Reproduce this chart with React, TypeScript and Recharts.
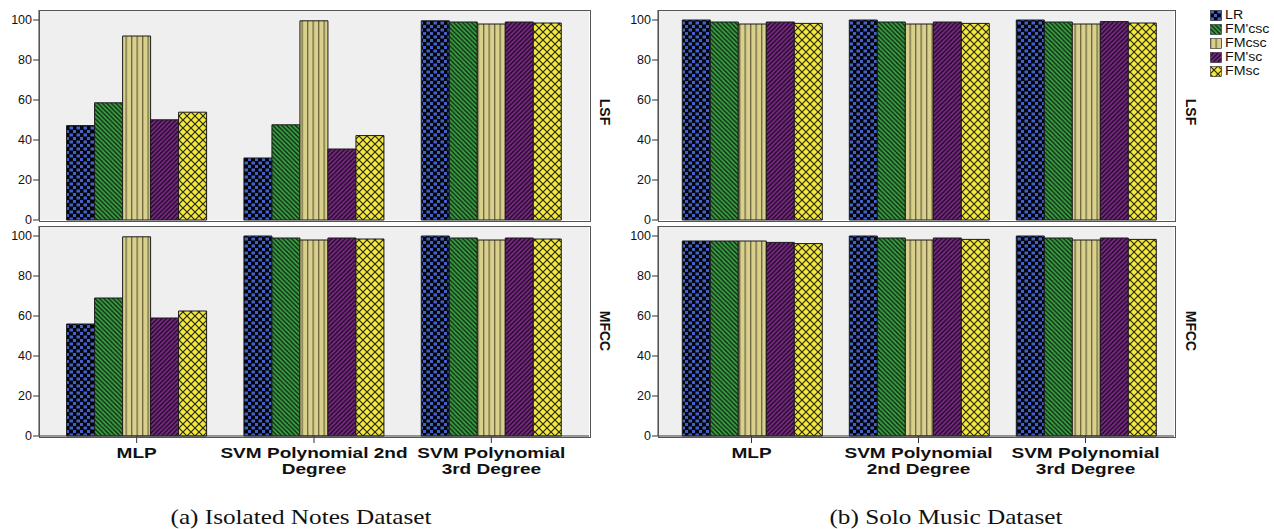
import React from 'react';
import { BarChart, Bar, XAxis, YAxis } from 'recharts';

// series + categories
const seriesNames = ['LR', "FM'csc", 'FMcsc', "FM'sc", 'FMsc'];
const seriesKeys = ['lr', 'fmPcsc', 'fmcsc', 'fmPsc', 'fmsc'];
const isolatedCategories = ['MLP', 'SVM Polynomial 2nd\nDegree', 'SVM Polynomial\n3rd Degree'];
const soloCategories = ['MLP', 'SVM Polynomial\n2nd Degree', 'SVM Polynomial\n3rd Degree'];
const yTicks = [0, 20, 40, 60, 80, 100];

// (a) Isolated Notes - LSF  (one array per series, values per category)
const isoLsfLR = [47.2, 31, 99.6];
const isoLsfFMPcsc = [58.6, 47.6, 99];
const isoLsfFMcsc = [92, 99.6, 98];
const isoLsfFMPsc = [50.1, 35.5, 99];
const isoLsfFMsc = [53.9, 42.2, 98.5];

// (a) Isolated Notes - MFCC
const isoMfccLR = [56, 100, 100];
const isoMfccFMPcsc = [69, 99, 99];
const isoMfccFMcsc = [99.6, 98, 98];
const isoMfccFMPsc = [59, 99, 99];
const isoMfccFMsc = [62.5, 98.5, 98.5];

// (b) Solo Music - LSF
const soloLsfLR = [100, 100, 100];
const soloLsfFMPcsc = [99, 99, 99];
const soloLsfFMcsc = [98, 98, 98];
const soloLsfFMPsc = [99, 99, 99.2];
const soloLsfFMsc = [98.3, 98.3, 98.5];

// (b) Solo Music - MFCC
const soloMfccLR = [97.5, 100, 100];
const soloMfccFMPcsc = [97.5, 99, 99];
const soloMfccFMcsc = [97.5, 98, 98];
const soloMfccFMPsc = [96.8, 99, 99];
const soloMfccFMsc = [96.2, 98.3, 98.3];

const buildRows = (cats: string[], cols: number[][]) =>
  cats.map((name, i) => {
    const row: Record<string, string | number> = { name };
    seriesKeys.forEach((k, s) => {
      row[k] = cols[s][i];
    });
    return row;
  });

const isoLsfData = buildRows(isolatedCategories, [isoLsfLR, isoLsfFMPcsc, isoLsfFMcsc, isoLsfFMPsc, isoLsfFMsc]);
const isoMfccData = buildRows(isolatedCategories, [isoMfccLR, isoMfccFMPcsc, isoMfccFMcsc, isoMfccFMPsc, isoMfccFMsc]);
const soloLsfData = buildRows(soloCategories, [soloLsfLR, soloLsfFMPcsc, soloLsfFMcsc, soloLsfFMPsc, soloLsfFMsc]);
const soloMfccData = buildRows(soloCategories, [soloMfccLR, soloMfccFMPcsc, soloMfccFMcsc, soloMfccFMPsc, soloMfccFMsc]);

const fills = ['url(#patLR)', 'url(#patFMPcsc)', 'url(#patFMcsc)', 'url(#patFMPsc)', 'url(#patFMsc)'];
const sans = '"Liberation Sans", Arial, Helvetica, sans-serif';
const PLOT_H = 210;

function Patterns() {
  return (
    <svg width={0} height={0} style={{ position: 'absolute' }}>
      <defs>
        <pattern id="patLR" patternUnits="userSpaceOnUse" width={7} height={7}>
          <rect width={7} height={7} fill="#04050c" />
          <rect x={0.5} y={0.5} width={3.5} height={3} fill="#4262c8" />
          <rect x={4} y={4} width={3.5} height={3} fill="#4262c8" />
        </pattern>
        <pattern id="patFMPcsc" patternUnits="userSpaceOnUse" width={4.5} height={4.5}>
          <rect width={4.5} height={4.5} fill="#3aa044" />
          <path d="M-1,-1 L5.5,5.5 M-1,3.5 L1,5.5 M3.5,-1 L5.5,1" stroke="#0c1a0c" strokeWidth={1.2} />
        </pattern>
        <pattern id="patFMcsc" patternUnits="userSpaceOnUse" width={5.5} height={6}>
          <rect width={5.5} height={6} fill="#d8d08c" />
          <rect x={0} y={0} width={1.3} height={6} fill="#6e6740" />
        </pattern>
        <pattern id="patFMPsc" patternUnits="userSpaceOnUse" width={4.5} height={4.5}>
          <rect width={4.5} height={4.5} fill="#7a2a84" />
          <path d="M-1,5.5 L5.5,-1 M-1,1 L1,-1 M3.5,5.5 L5.5,3.5" stroke="#14061a" strokeWidth={1.2} />
        </pattern>
        <pattern id="patFMsc" patternUnits="userSpaceOnUse" width={8} height={8}>
          <rect width={8} height={8} fill="#f2e83e" />
          <path d="M0,0 L8,8 M8,0 L0,8" stroke="#2a2810" strokeWidth={1.2} />
        </pattern>
      </defs>
    </svg>
  );
}

// the source figure is stretched sideways, so text is widened a bit
const CategoryTick = (props: any) => {
  const { x, y, payload } = props;
  const lines = String(payload.value).split('\n');
  return (
    <g transform={`translate(${x},${y}) scale(1.27,1)`}>
      <text x={0} y={0} textAnchor="middle" fontFamily={sans} fontWeight="bold" fontSize={15} fill="#111">
        {lines.map((l, i) => (
          <tspan key={i} x={0} dy={i === 0 ? 13 : 16}>
            {l}
          </tspan>
        ))}
      </text>
    </g>
  );
};

interface PanelProps {
  left: number;
  top: number;
  plotW: number;
  data: Record<string, string | number>[];
  showX: boolean;
  padL: number;
  padR: number;
  gap: number;
}

function Panel({ left, top, plotW, data, showX, padL, padR, gap }: PanelProps) {
  const yW = 40;
  const mTop = 10;
  const mRight = 10;
  const xH = showX ? 45 : 0;
  const mBottom = showX ? 0 : 10;
  const width = yW + plotW + mRight;
  const height = mTop + PLOT_H + xH + mBottom;
  return (
    <>
      <div
        style={{ position: 'absolute', left, top, width: plotW, height: PLOT_H, background: '#efefef' }}
      />
      <div style={{ position: 'absolute', left: left - yW, top: top - mTop, width, height }}>
        <BarChart
          width={width}
          height={height}
          data={data}
          margin={{ top: mTop, right: mRight, left: 0, bottom: mBottom }}
          barGap={0}
          barCategoryGap={gap}
        >
          <XAxis
            dataKey="name"
            hide={!showX}
            height={xH}
            padding={{ left: padL, right: padR }}
            tickSize={7}
            tickMargin={2}
            interval={0}
            stroke="#333"
            tick={<CategoryTick />}
          />
          <YAxis
            type="number"
            domain={[0, 105]}
            ticks={yTicks}
            width={yW}
            tickSize={6}
            tickMargin={1}
            stroke="#333"
            tick={{ fontSize: 12.5, fill: '#111', fontFamily: sans }}
          />
          {seriesKeys.map((k, i) => (
            <Bar
              key={k}
              dataKey={k}
              name={seriesNames[i]}
              fill={fills[i]}
              stroke="#1a1a1a"
              strokeWidth={1}
              isAnimationActive={false}
            />
          ))}
        </BarChart>
      </div>
      <div
        style={{
          position: 'absolute',
          left: left - 0.5,
          top: top - 0.5,
          width: plotW,
          height: PLOT_H,
          border: '1px solid #555',
          pointerEvents: 'none',
        }}
      />
    </>
  );
}

function RowLabel({ x, y, text }: { x: number; y: number; text: string }) {
  return (
    <div
      style={{
        position: 'absolute',
        left: x - 40,
        top: y - 9,
        width: 80,
        height: 18,
        lineHeight: '18px',
        textAlign: 'center',
        fontFamily: sans,
        fontWeight: 'bold',
        fontSize: 14,
        color: '#111',
        transform: 'rotate(90deg)',
      }}
    >
      {text}
    </div>
  );
}

function Legend() {
  return (
    <div style={{ position: 'absolute', left: 1210, top: 8 }}>
      {seriesNames.map((n, i) => (
        <div key={n} style={{ display: 'flex', alignItems: 'center', height: 14 }}>
          <svg width={12} height={11} style={{ marginRight: 3 }}>
            <rect x={0.5} y={0.5} width={11} height={10} fill={fills[i]} stroke="#222" strokeWidth={0.6} />
          </svg>
          <span
            style={{
              fontFamily: sans,
              fontSize: 12,
              color: '#111',
              display: 'inline-block',
              transform: 'scaleX(1.18)',
              transformOrigin: 'left center',
            }}
          >
            {n}
          </span>
        </div>
      ))}
    </div>
  );
}

function Caption({ cx, text }: { cx: number; text: string }) {
  return (
    <div
      style={{
        position: 'absolute',
        left: cx - 200,
        top: 505,
        width: 400,
        textAlign: 'center',
        fontFamily: '"Liberation Serif", "Times New Roman", serif',
        fontSize: 21,
        color: '#111',
        transform: 'scaleX(1.2)',
      }}
    >
      {text}
    </div>
  );
}

export default function App() {
  return (
    <div style={{ position: 'absolute', left: 0, top: 0, width: 1274, height: 529, background: '#fff', overflow: 'hidden' }}>
      <Patterns />
      <Panel left={39} top={10} plotW={550} data={isoLsfData} showX={false} padL={9} padR={9} gap={18.6} />
      <Panel left={39} top={226} plotW={550} data={isoMfccData} showX padL={9} padR={9} gap={18.6} />
      <Panel left={658} top={10} plotW={516} data={soloLsfData} showX={false} padL={10} padR={5} gap={14.3} />
      <Panel left={658} top={226} plotW={516} data={soloMfccData} showX padL={10} padR={5} gap={14.3} />
      <RowLabel x={605} y={112} text="LSF" />
      <RowLabel x={605} y={331} text="MFCC" />
      <RowLabel x={1191} y={112} text="LSF" />
      <RowLabel x={1191} y={331} text="MFCC" />
      <Legend />
      <Caption cx={301} text="(a) Isolated Notes Dataset" />
      <Caption cx={946} text="(b) Solo Music Dataset" />
    </div>
  );
}
